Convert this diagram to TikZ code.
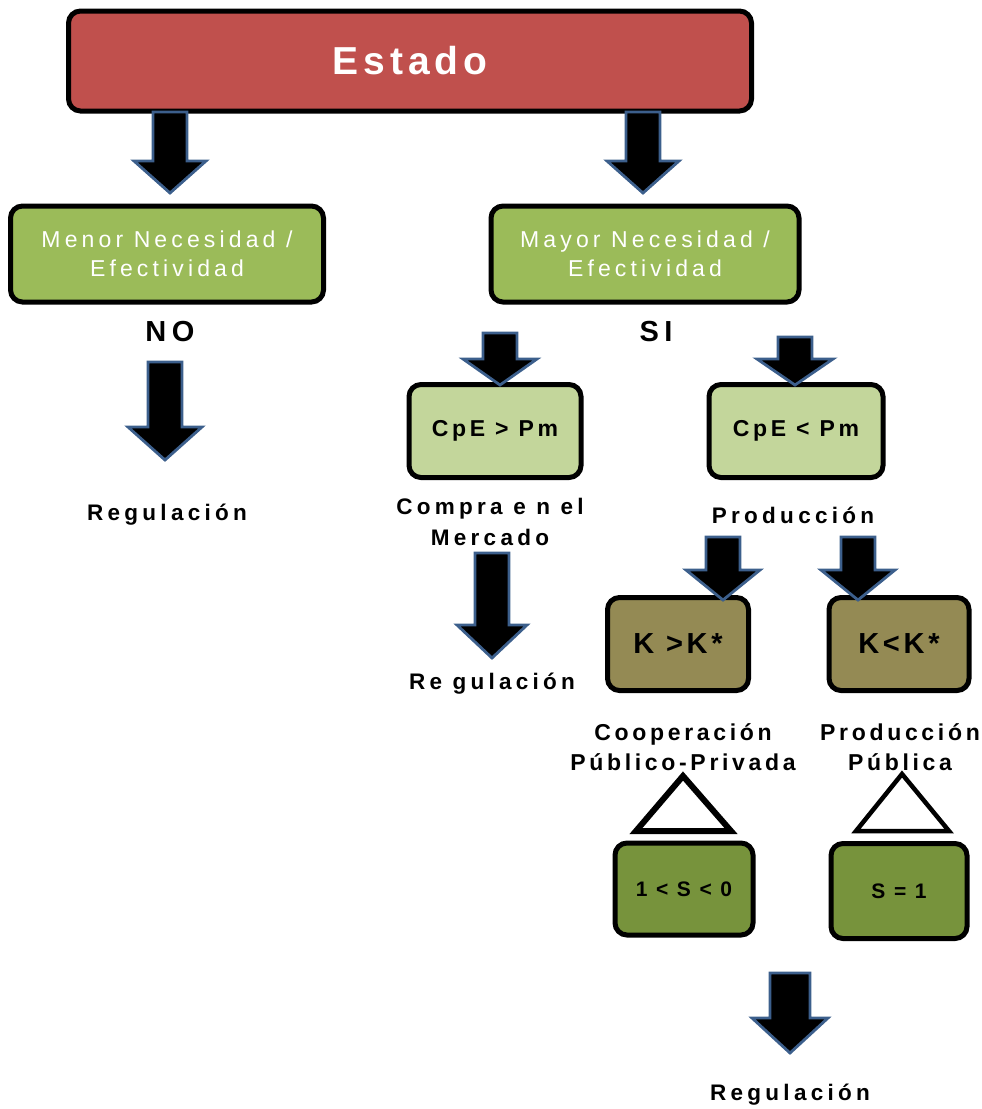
\documentclass[tikz,border=0pt]{standalone}
\usepackage{fontspec}
\setmainfont{Liberation Sans}
\newfontfamily\lsA[LetterSpace=13]{Liberation Sans}
\newfontfamily\lsB[LetterSpace=13]{Liberation Sans}
\newfontfamily\lsC[LetterSpace=16]{Liberation Sans}
\newfontfamily\lsM[LetterSpace=18]{Liberation Sans}
\newfontfamily\lsD[LetterSpace=19]{Liberation Sans}
\definecolor{estred}{HTML}{C0504D}
\definecolor{midgreen}{HTML}{9BBB59}
\definecolor{lightgreen}{HTML}{C3D69B}
\definecolor{olivebox}{HTML}{948A54}
\definecolor{darkgreen}{HTML}{77933C}
\definecolor{arrowblue}{HTML}{3C5F8C}
\newcommand\BArrow[6]{\draw[barr] ({#1-#4},#2) -- ({#1+#4},#2) -- ({#1+#4},{#3-#6}) -- ({#1+#5},{#3-#6}) -- (#1,#3) -- ({#1-#5},{#3-#6}) -- ({#1-#4},{#3-#6}) -- cycle;}
\tikzset{
  box/.style={draw=black, line width=5pt, rounded corners=12pt, inner sep=0pt, align=center},
  barr/.style={fill=black, draw=arrowblue, line width=2.8pt, line join=miter},
  lab/.style={font=\lsD\bfseries\fontsize{22.5}{30.5}\selectfont, align=center, inner sep=0pt},
  tri/.style={draw=black, fill=white, line join=miter}
}
\begin{document}
\begin{tikzpicture}[x=1pt,y=-1pt]
\useasboundingbox (0,0) rectangle (982,1109);
% boxes
\node[box, fill=estred, minimum width=683pt, minimum height=100pt, text=white, font=\lsB\bfseries\fontsize{39}{46}\selectfont] (estado) at (410,61) {Estado};
\node[box, fill=midgreen, minimum width=313pt, minimum height=96pt, text=white, font=\lsM\fontsize{23}{29}\selectfont] (menor) at (167,254) {Menor Necesidad /\\Efectividad};
\node[box, fill=midgreen, minimum width=308pt, minimum height=96pt, text=white, font=\lsM\fontsize{23}{29}\selectfont] (mayor) at (645,254) {Mayor Necesidad /\\Efectividad};
\node[box, fill=lightgreen, minimum width=172pt, minimum height=93pt, font=\lsC\bfseries\fontsize{23}{28}\selectfont] (cpe1) at (495,431) {CpE > Pm};
\node[box, fill=lightgreen, minimum width=174pt, minimum height=93pt, font=\lsC\bfseries\fontsize{23}{28}\selectfont] (cpe2) at (796,431) {CpE < Pm};
\node[box, fill=olivebox, minimum width=141pt, minimum height=93pt, font=\lsB\bfseries\fontsize{29}{33}\selectfont] (k1) at (678,644) {K >K*};
\node[box, fill=olivebox, minimum width=140pt, minimum height=93pt, font=\lsB\bfseries\fontsize{29}{33}\selectfont] (k2) at (899,644) {K<K*};
\node[box, fill=darkgreen, minimum width=138pt, minimum height=92pt, font=\lsA\bfseries\fontsize{21}{24}\selectfont] (s1) at (684,889) {1 < S < 0};
\node[box, fill=darkgreen, minimum width=136pt, minimum height=95pt, font=\lsA\bfseries\fontsize{21}{24}\selectfont] (s2) at (899,891) {S = 1};
% labels
\node[lab, font=\lsD\bfseries\fontsize{29}{33}\selectfont] (no) at (170,332) {NO};
\node[lab, font=\lsD\bfseries\fontsize{29}{33}\selectfont] (si) at (656,332) {SI};
\node[lab] (reg1) at (167,515) {Regulación};
\node[lab] (compra) at (490,522) {Compra e n el\\Mercado};
\node[lab] (prod) at (793,515) {Producción};
\node[lab] (reg2) at (492,684) {Re gulación};
\node[lab, font=\lsC\bfseries\fontsize{23}{30}\selectfont] (coop) at (683,747) {Cooperación\\Público-Privada};
\node[lab, font=\lsC\bfseries\fontsize{23}{30}\selectfont] (prodp) at (900,747) {Producción\\Pública};
\node[lab] (reg3) at (790,1095) {Regulación};
% triangles
\draw[tri, line width=6pt] (683,776) -- (731,831) -- (636,831) -- cycle;
\draw[tri, line width=4.5pt] (902,774) -- (949,831) -- (856,831) -- cycle;
% block arrows
\BArrow{170}{112}{193}{17}{36}{32}
\BArrow{643}{112}{193}{17}{36}{32}
\BArrow{165}{362}{460}{17}{37}{33}
\BArrow{500}{333}{385}{17}{37}{26}
\BArrow{795}{337}{385}{17}{38}{26}
\BArrow{492}{553}{658}{17}{35}{33}
\BArrow{723}{537}{600}{17}{37}{30}
\BArrow{858}{537}{600}{17}{37}{30}
\BArrow{790}{973}{1053}{20}{38}{35}
\end{tikzpicture}
\end{document}
